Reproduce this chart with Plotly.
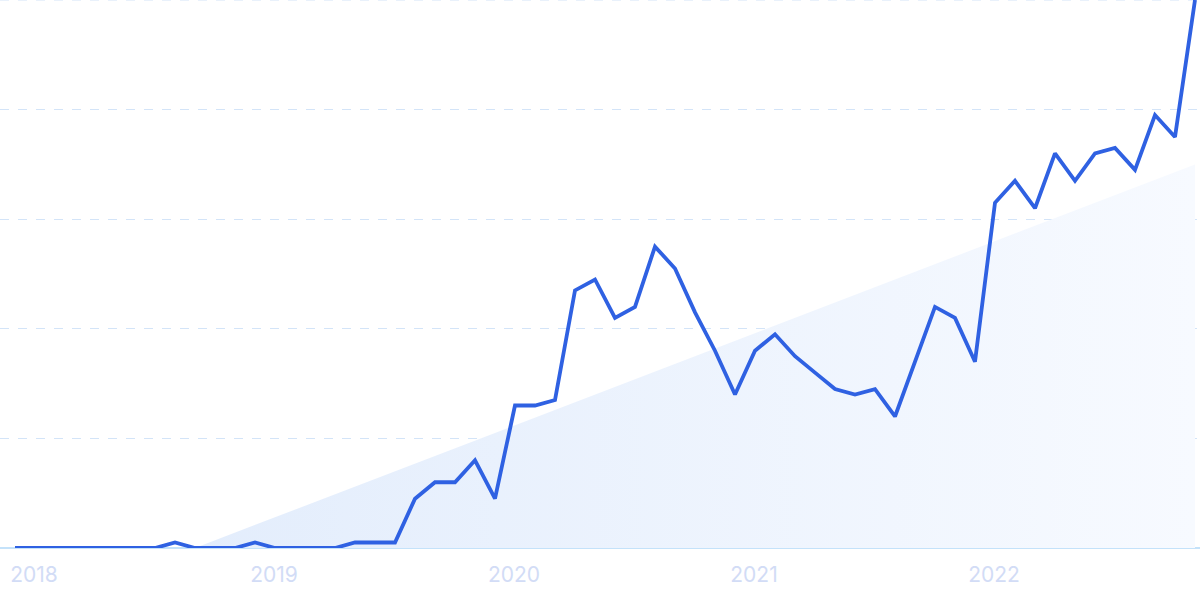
import plotly.graph_objects as go

# Monthly index values, Jan 2018 .. Dec 2022
months = list(range(60))
values = [0, 0, 0, 0, 0, 0, 0, 0, 1, 0, 0, 0,
          1, 0, 0, 0, 0, 1, 1, 1, 9, 12, 12, 16,
          9, 26, 26, 27, 47, 49, 42, 44, 55, 51, 43, 36,
          28, 36, 39, 35, 32, 29, 28, 29, 24, 34, 44, 42,
          34, 63, 67, 62, 72, 67, 72, 73, 69, 79, 75, 100]

# Trend line (start and end)
trend_x = [9, 59]
trend_y = [0, 70]

year_labels = ["2018", "2019", "2020", "2021", "2022"]
year_pos = [0.95, 12.95, 24.95, 36.95, 48.95]
grid_vals = [0, 20, 40, 60, 80, 100]

fig = go.Figure()

fig.add_trace(go.Scatter(
    x=[trend_x[0], trend_x[1], trend_x[1], trend_x[0]],
    y=[trend_y[0], trend_y[1], 0, 0],
    fill="toself",
    fillgradient=dict(type="horizontal",
                      colorscale=[[0, "#e3edfc"], [1, "#f7faff"]]),
    line=dict(width=0),
    mode="lines",
    hoverinfo="skip",
    showlegend=False,
))

fig.add_trace(go.Scatter(
    x=months, y=values, mode="lines",
    line=dict(color="#2f61e2", width=3.8),
    cliponaxis=False,
    showlegend=False,
))

fig.add_shape(type="line", xref="paper", yref="y", x0=0, x1=1,
              y0=grid_vals[-1], y1=grid_vals[-1], layer="below",
              line=dict(color="#d3e4f8", width=1, dash="dash"))

fig.update_layout(
    width=1200, height=600,
    margin=dict(l=0, r=0, t=0, b=52),
    paper_bgcolor="white", plot_bgcolor="white",
    font=dict(family="Inter", size=21, color="#d2dcf6"),
    xaxis=dict(range=[-0.75, 59.25], showgrid=False, zeroline=False,
               tickmode="array", tickvals=year_pos, ticktext=year_labels,
               ticks="", showline=False, ticklabelstandoff=12),
    yaxis=dict(range=[0, 100], showgrid=True, gridcolor="#d3e4f8",
               griddash="dash", gridwidth=1, zeroline=True,
               zerolinecolor="#c4e2fa", zerolinewidth=1.5,
               tickvals=grid_vals, showticklabels=False),
)

fig.write_html("out.html", config={"displayModeBar": False},
               post_script="document.body.style.margin='0';document.body.style.overflow='hidden';")
